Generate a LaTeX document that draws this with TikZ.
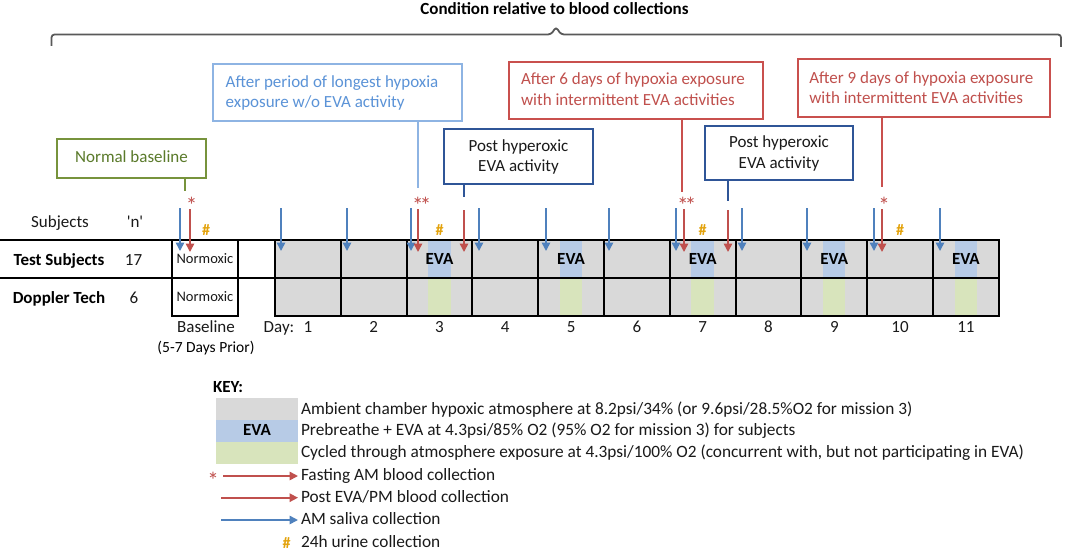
\documentclass[tikz,border=0pt]{standalone}
\usepackage{fontspec}
\setmainfont{Carlito}
\usetikzlibrary{arrows.meta}
\definecolor{cgray}{HTML}{D9D9D9}
\definecolor{cevab}{HTML}{B7CBE6}
\definecolor{cevag}{HTML}{D8E4BC}
\definecolor{carrb}{HTML}{4F81BD}
\definecolor{carrr}{HTML}{C0504D}
\definecolor{chash}{HTML}{E3A20B}
\definecolor{cgreenb}{HTML}{77933C}
\definecolor{cgreent}{HTML}{5A7A2A}
\definecolor{clblueb}{HTML}{8EB4E3}
\definecolor{clbluet}{HTML}{5B93D7}
\definecolor{cdblue}{HTML}{2F5597}
\definecolor{credb}{HTML}{C9504E}
\definecolor{ctext}{HTML}{1A1A1A}
\definecolor{cbrace}{HTML}{595959}
\newcommand\sq{\XeTeXglyph\the\XeTeXcharglyph"27\relax}
\newcommand\dast{*\kern-3.5pt*}
\tikzset{
  txt/.style={inner sep=0pt, outer sep=0pt, text height=12pt, text depth=3.4pt, font=\fontsize{17}{20}\selectfont, text=ctext},
  txtb/.style={inner sep=0pt, outer sep=0pt, text height=12pt, text depth=3.4pt, font=\fontsize{17}{20}\selectfont\bfseries, text=black},
  small/.style={inner sep=0pt, outer sep=0pt, text height=10pt, text depth=2.8pt, font=\fontsize{14.5}{16}\selectfont, text=ctext},
  keytxt/.style={inner sep=0pt, outer sep=0pt, text height=12pt, text depth=3.4pt, font=\fontsize{17.3}{20}\selectfont, text=ctext, anchor=west},
  keyb/.style={inner sep=0pt, outer sep=0pt, text height=12pt, text depth=3.4pt, font=\fontsize{17}{20}\selectfont\bfseries, text=black},
  cbox/.style={line width=1.5pt, inner sep=0pt, outer sep=0pt, anchor=north west},
  gridl/.style={draw=black, line width=1.6pt},
  gridv/.style={draw=black, line width=2pt},
  barr/.style={draw=carrb, line width=1.6pt, -{Triangle[width=8.5pt,length=8.5pt]}},
  rarr/.style={draw=carrr, line width=1.6pt, -{Triangle[width=8.5pt,length=8.5pt]}},
  astr/.style={inner sep=0pt, outer sep=0pt, anchor=base, font=\fontsize{23}{26}\selectfont, text=carrr},
  hsh/.style={inner sep=0pt, outer sep=0pt, anchor=base, font=\fontsize{16}{20}\selectfont\bfseries, text=chash},
}
\begin{document}
\begin{tikzpicture}[x=1pt,y=-1pt]
\useasboundingbox (0,0) rectangle (1065,551);
\fill[white] (0,0) rectangle (1065,551);

% title and brace
\node[txtb] (title) at (554.5,10) {Condition relative to blood collections};
\draw[cbrace, line width=1.8pt, rounded corners=3pt] (51.5,46) -- (51.5,34.5) -- (551,34.5) -- (556,27) -- (561,34.5) -- (1061,34.5) -- (1061,47);

% callout boxes
\node[cbox, draw=cgreenb, minimum width=149pt, minimum height=39pt] (gbox) at (57,139) {};
\node[txt, text=cgreent] (gtxt) at (gbox.center) {Normal baseline};

\node[cbox, draw=clblueb, minimum width=249pt, minimum height=57pt] (lbox) at (213,64) {};
\node[txt, text=clbluet, anchor=west] (ltxta) at (225.7,82.7) {After period of longest hypoxia};
\node[txt, text=clbluet, anchor=west] (ltxtb) at (225.7,103.3) {exposure w/o EVA activity};

\node[cbox, draw=cdblue, minimum width=149pt, minimum height=55pt] (dbox) at (444,129) {};
\node[txt] (dtxta) at (518.5,146.7) {Post hyperoxic};
\node[txt] (dtxtb) at (518.5,167.3) {EVA activity};

\node[cbox, draw=credb, minimum width=254pt, minimum height=57pt] (rbox) at (509,62) {};
\node[txt, text=carrr, anchor=west] (rtxta) at (521,80.5) {After 6 days of hypoxia exposure};
\node[txt, text=carrr, anchor=west] (rtxtb) at (521,101) {with intermittent EVA activities};

\node[cbox, draw=cdblue, minimum width=148pt, minimum height=54pt] (ebox) at (705,126) {};
\node[txt] (etxta) at (779,143.3) {Post hyperoxic};
\node[txt] (etxtb) at (779,164) {EVA activity};

\node[cbox, draw=credb, minimum width=252pt, minimum height=58pt] (sbox) at (798,59) {};
\node[txt, text=carrr, anchor=west] (stxta) at (809.3,79) {After 9 days of hypoxia exposure};
\node[txt, text=carrr, anchor=west] (stxtb) at (809.3,99.5) {with intermittent EVA activities};

% callout leader lines
\coordinate (gend) at (185,191);
\coordinate (lend) at (418,188);
\coordinate (dend) at (464,197);
\coordinate (rend) at (682,192);
\coordinate (eend) at (728,201);
\coordinate (send) at (882,187);
\draw[cgreenb, line width=1.5pt] (gbox.south -| gend) -- (gend);
\draw[clblueb, line width=1.5pt] (lbox.south -| lend) -- (lend);
\draw[cdblue, line width=1.5pt] (dbox.south -| dend) -- (dend);
\draw[credb, line width=1.5pt] (rbox.south -| rend) -- (rend);
\draw[cdblue, line width=1.5pt] (ebox.south -| eend) -- (eend);
\draw[credb, line width=1.5pt] (sbox.south -| send) -- (send);

% row labels
\node[txt] (hsub) at (60,223) {Subjects};
\node[txt] (hn) at (135,223) {\sq n\sq};
\node[txtb] (rts) at (59,261) {Test Subjects};
\node[txt] (rtsn) at (133.5,261) {17};
\node[txtb] (rdt) at (59,299) {Doppler Tech};
\node[txt] (rdtn) at (134,299) {6};

% grid
\fill[cgray] (275,240) rectangle (998.8,316);
\foreach \d in {3,5,7,9,11} {
  \pgfmathsetmacro\xa{275+65.8*(\d-1)+21.5}
  \fill[cevab] (\xa,240) rectangle ++(22.5,38);
  \fill[cevag] (\xa,278) rectangle ++(22.5,38);
}
\draw[gridl] (0,240) -- (998.8,240);
\draw[gridl] (0,278) -- (998.8,278);
\draw[gridl] (172,240) rectangle (238,316);
\draw[gridl] (275,240) rectangle (998.8,316);
\foreach \i in {1,...,10} \draw[gridv] ({275+65.8*\i},240) -- ++(0,76);

\node[small] (nm1) at (205,260) {Normoxic};
\node[small] (nm2) at (205,298) {Normoxic};
\foreach \d in {3,5,7,9,11}
  \node[txtb] (eva\d) at ({275+65.8*(\d-1)+32.9},260) {EVA};

% day labels
\node[txt] (bl) at (206,328) {Baseline};
\node[inner sep=0pt, text height=10.8pt, text depth=3.1pt, font=\fontsize{15.5}{18}\selectfont] (blp) at (206,349) {(5-7 Days Prior)};
\node[txt] (dayl) at (279,328) {Day:};
\foreach \d in {1,...,11}
  \node[txt] (day\d) at ({275+65.8*(\d-1)+32.9},328) {\d};

% saliva arrows (blue)
\foreach \x in {180,281,347,411,479,546,609,676,742,807,874,940}
  \draw[barr] (\x,208) -- (\x,251);
% blood arrows (red)
\foreach \x in {190,418,684,882}
  \draw[rarr] (\x,209) -- (\x,252);
\foreach \x in {464,728}
  \draw[rarr] (\x,210) -- (\x,252);

% asterisks
\node[astr] (as1) at (191.7,213) {*};
\node[astr] (as2) at (421.7,213) {\dast};
\node[astr] (as3) at (686.7,213) {\dast};
\node[astr] (as4) at (884,213) {*};

% urine hashes
\node[hsh] (h1) at (206,235) {\#};
\node[hsh] (h2) at (439.5,235) {\#};
\node[hsh] (h3) at (702.7,235) {\#};
\node[hsh] (h4) at (900,235) {\#};

% key
\node[keyb, anchor=west] (keyt) at (213,388) {KEY:};
\fill[cgray] (216,398) rectangle (298,420);
\fill[cevab] (216,420) rectangle (298,442);
\fill[cevag] (216,442) rectangle (298,464);
\node[keyb] (keva) at (257,431) {EVA};
\node[keytxt] (k1) at (301,410) {Ambient chamber hypoxic atmosphere at 8.2psi/34\% (or 9.6psi/28.5\%O2 for mission 3)};
\node[keytxt] (k2) at (301,431.5) {Prebreathe + EVA at 4.3psi/85\% O2 (95\% O2 for mission 3) for subjects};
\node[keytxt] (k3) at (301,453) {Cycled through atmosphere exposure at 4.3psi/100\% O2 (concurrent with, but not participating in EVA)};
\node[keytxt] (k4) at (301,476) {Fasting AM blood collection};
\node[keytxt] (k5) at (301,497.7) {Post EVA/PM blood collection};
\node[keytxt] (k6) at (301,520) {AM saliva collection};
\node[keytxt] (k7) at (301,543) {24h urine collection};
\node[astr] (kas) at (213,488) {*};
\coordinate (ka1) at (223,476);
\coordinate (ka2) at (221,497.7);
\coordinate (ka3) at (221,520);
\draw[rarr] (ka1) -- ([xshift=-3pt]k4.west);
\draw[rarr] (ka2) -- ([xshift=-3pt]k5.west);
\draw[barr] (ka3) -- ([xshift=-3pt]k6.west);
\node[hsh] (kh) at (286.7,548) {\#};
\end{tikzpicture}
\end{document}
